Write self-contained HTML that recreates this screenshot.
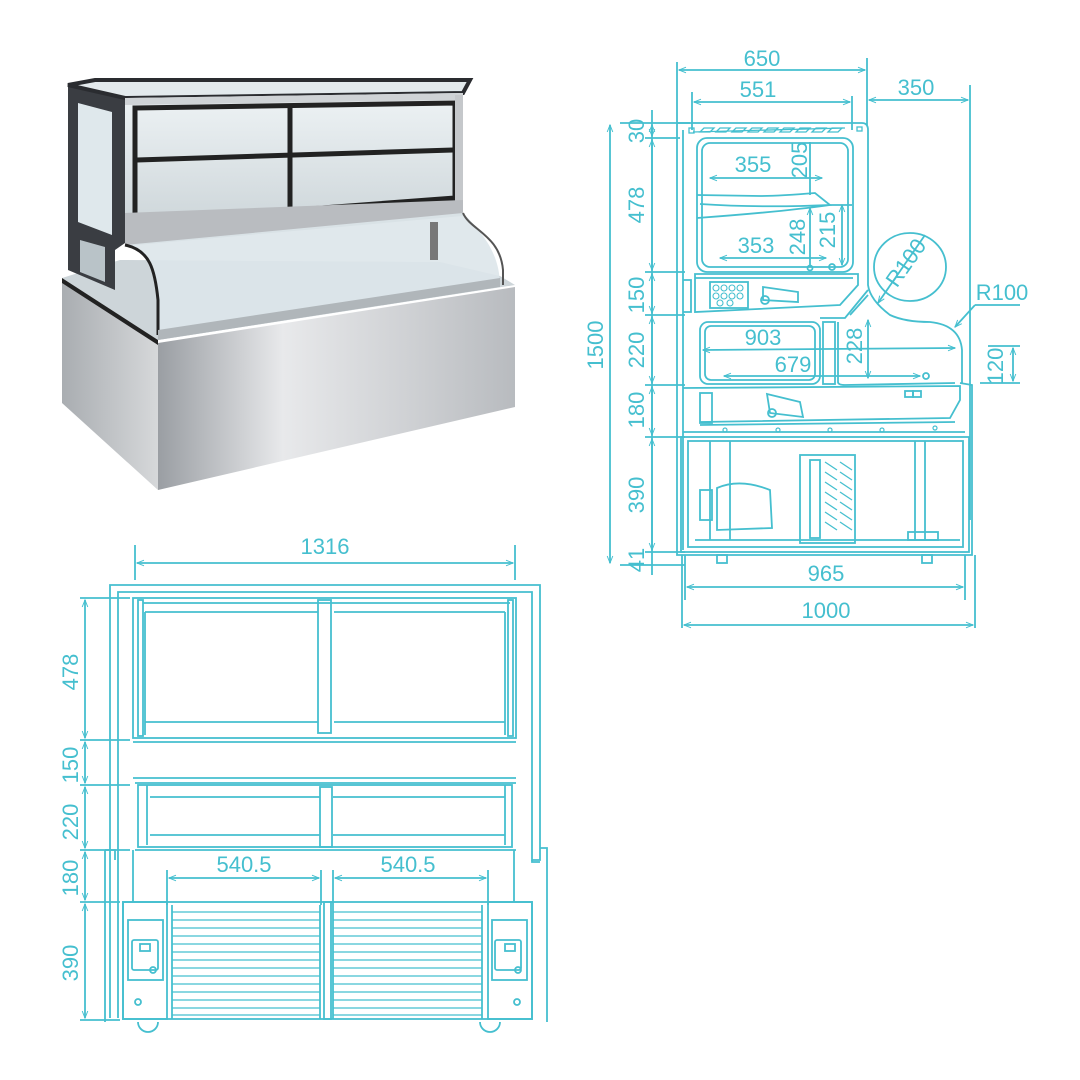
<!DOCTYPE html>
<html><head><meta charset="utf-8"><style>
html,body{margin:0;padding:0;background:#fff;}
svg{display:block}
text{font-family:"Liberation Sans",sans-serif;fill:#45bfcf;font-size:22px}
</style></head><body>
<svg width="1080" height="1080" viewBox="0 0 1080 1080" xmlns="http://www.w3.org/2000/svg">
<defs>
<marker id="a" viewBox="0 0 10 10" refX="10" refY="5" markerWidth="9" markerHeight="7" orient="auto-start-reverse" markerUnits="userSpaceOnUse"><path d="M0,1 L10,5 L0,9" fill="none" stroke="#45bfcf" stroke-width="1.4"/></marker>
<linearGradient id="steel" x1="0" y1="0" x2="1" y2="0"><stop offset="0" stop-color="#9a9ea3"/><stop offset="0.35" stop-color="#e8e9eb"/><stop offset="0.7" stop-color="#cfd1d4"/><stop offset="1" stop-color="#b8bbbf"/></linearGradient>
<linearGradient id="side" x1="0" y1="0" x2="1" y2="0"><stop offset="0" stop-color="#a9adb1"/><stop offset="1" stop-color="#d6d8da"/></linearGradient>
<linearGradient id="glass" x1="0" y1="0" x2="0" y2="1"><stop offset="0" stop-color="#eef3f5"/><stop offset="1" stop-color="#c9d2d6"/></linearGradient>
</defs>

<!-- PHOTO -->
<g>
<polygon points="62,280 158,343 158,490 62,403" fill="url(#side)"/>
<polygon points="158,343 515,287 515,407 158,490" fill="url(#steel)"/>
<polygon points="62,278 158,340 515,285 500,276 440,262 120,260" fill="#cdd5d9"/>
<polygon points="62,278 158,340 158,345 62,283" fill="#222"/>
<!-- side frame -->
<polygon points="68,85 125,98 125,243 115,250 115,290 68,270" fill="#3a3d42"/>
<polygon points="78,103 112,112 112,235 78,222" fill="#dfe8ec"/>
<polygon points="80,240 105,247 105,282 80,272" fill="#b9c3c8"/>
<!-- top glass -->
<polygon points="68,85 95,80 470,80 463,93 125,98" fill="#e3eaed" stroke="#2a2c30" stroke-width="4"/>
<polygon points="125,98 463,93 463,213 125,243" fill="url(#glass)"/>
<polygon points="125,98 463,93 463,100 125,105" fill="#cfd3d6"/>
<g fill="none" stroke="#222" stroke-width="5">
<polygon points="135,108 455,103 455,198 135,222"/>
<line x1="290" y1="108" x2="290" y2="212"/>
<line x1="137" y1="160" x2="453" y2="150"/>
</g>
<rect x="455" y="95" width="8" height="118" fill="#c5c8cb"/>
<polygon points="125,213 463,200 463,216 125,246" fill="#b9bcc0"/>
<!-- lower glass -->
<path d="M125,245 C150,250 155,270 158,300 L158,340 L500,287 C500,260 490,240 463,213 Z" fill="#dde6ea" opacity="0.9"/>
<path d="M125,245 C150,250 155,270 158,300 L158,335" fill="none" stroke="#222" stroke-width="3"/>
<path d="M463,213 C470,230 500,235 503,270 L503,285" fill="none" stroke="#555" stroke-width="2"/>
<rect x="430" y="222" width="8" height="38" fill="#777"/>
<polygon points="158,330 500,278 500,287 158,340" fill="#b0b6ba"/>
</g>

<g fill="none" stroke="#45bfcf" stroke-width="1.8">
<!-- ===== SIDE VIEW ===== -->
<line x1="677" y1="62" x2="677" y2="125"/><line x1="867" y1="58" x2="867" y2="125"/>
<line x1="679" y1="70" x2="865" y2="70" marker-start="url(#a)" marker-end="url(#a)"/>
<line x1="692" y1="92" x2="692" y2="130"/><line x1="852" y1="96" x2="852" y2="130"/>
<line x1="694" y1="102" x2="850" y2="102" marker-start="url(#a)" marker-end="url(#a)"/>
<line x1="970" y1="85" x2="970" y2="520"/>
<line x1="869" y1="100" x2="968" y2="100" marker-start="url(#a)" marker-end="url(#a)"/>
<line x1="652" y1="110" x2="652" y2="575"/>
<g>
<line x1="620" y1="123" x2="690" y2="123"/><line x1="645" y1="138" x2="680" y2="138"/>
<line x1="645" y1="272" x2="685" y2="272"/><line x1="645" y1="315" x2="685" y2="315"/>
<line x1="645" y1="385" x2="685" y2="385"/><line x1="645" y1="437" x2="685" y2="437"/>
<line x1="645" y1="552" x2="685" y2="552"/><line x1="620" y1="565" x2="685" y2="565"/>
</g>
<line x1="610" y1="125" x2="610" y2="563" marker-start="url(#a)" marker-end="url(#a)"/>
<g marker-start="url(#a)" marker-end="url(#a)">
<line x1="652" y1="125" x2="652" y2="136"/>
<line x1="652" y1="140" x2="652" y2="270"/>
<line x1="652" y1="274" x2="652" y2="313"/>
<line x1="652" y1="317" x2="652" y2="383"/>
<line x1="652" y1="387" x2="652" y2="435"/>
<line x1="652" y1="439" x2="652" y2="550"/>
</g>
<line x1="685" y1="555" x2="685" y2="600"/><line x1="965" y1="555" x2="965" y2="600"/>
<line x1="687" y1="587" x2="963" y2="587" marker-start="url(#a)" marker-end="url(#a)"/>
<line x1="682" y1="555" x2="682" y2="628"/><line x1="975" y1="555" x2="975" y2="628"/>
<line x1="684" y1="625" x2="973" y2="625" marker-start="url(#a)" marker-end="url(#a)"/>
<path d="M677,125 L677,555 L972,555 L972,385 L960,383"/>
<path d="M677,123 L862,123 Q868,123 868,130 L868,285 Q870,300 890,315 Q905,322 930,322 Q960,325 962,350 L962,383"/>
<path d="M683,130 L683,550"/>
<g stroke-width="1.3">
<path d="M693,132 L845,128"/><path d="M700,132 l4,-4 h10 l-4,4z M716,132 l4,-4 h10 l-4,4z M732,132 l4,-4 h10 l-4,4z M748,132 l4,-4 h10 l-4,4z M764,132 l4,-4 h10 l-4,4z M780,132 l4,-4 h10 l-4,4z M796,132 l4,-4 h10 l-4,4z M812,132 l4,-4 h10 l-4,4z M828,132 l4,-4 h10 l-4,4z"/>
<rect x="689" y="128" width="5" height="5"/><rect x="857" y="127" width="5" height="4"/>
</g>
<rect x="697" y="138" width="156" height="134" rx="10"/>
<rect x="702" y="143" width="146" height="124" rx="8"/>
<path d="M697,195 L760,196 Q780,196 815,193 L830,205 Q780,212 697,218"/>
<path d="M700,204 Q760,208 830,205 L852,205"/>
<line x1="710" y1="178" x2="822" y2="178" marker-start="url(#a)" marker-end="url(#a)"/>
<line x1="810" y1="142" x2="810" y2="195"/>
<line x1="810" y1="208" x2="810" y2="267" marker-start="url(#a)"/>
<line x1="842" y1="205" x2="842" y2="265" marker-start="url(#a)" marker-end="url(#a)"/>
<line x1="720" y1="258" x2="826" y2="258" marker-start="url(#a)" marker-end="url(#a)"/>
<circle cx="810" cy="268" r="2.5"/><circle cx="832" cy="267" r="3"/>
<path d="M695,274 L858,274 L858,285 L840,305 L695,312 Z"/>
<path d="M695,278 L853,278"/>
<rect x="710" y="282" width="38" height="26"/>
<g stroke-width="1.1"><circle cx="716" cy="288" r="3"/><circle cx="724" cy="288" r="3"/><circle cx="732" cy="288" r="3"/><circle cx="740" cy="288" r="3"/><circle cx="716" cy="296" r="3"/><circle cx="724" cy="296" r="3"/><circle cx="732" cy="296" r="3"/><circle cx="740" cy="296" r="3"/><circle cx="720" cy="303" r="3"/><circle cx="730" cy="303" r="3"/></g>
<path d="M763,287 L798,292 L798,302 L763,300 Z"/><circle cx="765" cy="300" r="4"/>
<path d="M683,280 h8 v32 h-8"/>
<path d="M868,290 L845,318 L820,318"/>
<path d="M868,295 L850,315"/>
<rect x="700" y="322" width="120" height="62" rx="8"/>
<rect x="705" y="326" width="110" height="54" rx="6"/>
<rect x="823" y="322" width="12" height="62"/>
<path d="M838,322 L838,382 Q838,385 845,385 L955,383"/>
<line x1="703" y1="350" x2="955" y2="348" marker-start="url(#a)" marker-end="url(#a)"/>
<line x1="724" y1="376" x2="920" y2="376" marker-start="url(#a)" marker-end="url(#a)"/>
<circle cx="926" cy="376" r="3"/>
<line x1="868" y1="320" x2="868" y2="378" marker-start="url(#a)" marker-end="url(#a)"/>
<line x1="988" y1="346" x2="1020" y2="346"/><line x1="980" y1="383" x2="1020" y2="383"/>
<line x1="1013" y1="348" x2="1013" y2="381" marker-start="url(#a)" marker-end="url(#a)"/>
<ellipse cx="910" cy="267" rx="36" ry="34"/>
<line x1="925" y1="235" x2="878" y2="303" marker-end="url(#a)"/>
<line x1="1020" y1="305" x2="975" y2="305"/><line x1="975" y1="305" x2="955" y2="327" marker-end="url(#a)"/>
<path d="M683,388 L960,386 L960,400 L950,418 L700,422"/>
<rect x="700" y="393" width="12" height="30"/>
<path d="M767,394 L800,402 L803,417 L770,413 Z"/><circle cx="772" cy="413" r="4"/>
<rect x="905" y="391" width="8" height="6"/><rect x="913" y="391" width="8" height="6"/>
<path d="M683,432 L965,432"/><path d="M700,425 L955,422"/>
<g stroke-width="1.2"><circle cx="725" cy="430" r="2"/><circle cx="778" cy="430" r="2"/><circle cx="830" cy="430" r="2"/><circle cx="882" cy="430" r="2"/><circle cx="935" cy="428" r="2"/></g>
<rect x="681" y="437" width="288" height="115"/>
<rect x="688" y="441" width="275" height="106"/>
<line x1="695" y1="540" x2="960" y2="540"/>
<line x1="710" y1="441" x2="710" y2="540"/><line x1="730" y1="441" x2="730" y2="540"/>
<path d="M717,488 Q740,478 770,490 L772,528 L717,530 Z"/>
<rect x="700" y="490" width="12" height="30"/>
<rect x="800" y="455" width="55" height="88"/><rect x="810" y="460" width="10" height="78"/>
<g stroke-width="1.3"><path d="M825,462 l12,8 M825,472 l12,8 M825,482 l12,8 M825,492 l12,8 M825,502 l12,8 M825,512 l12,8 M825,522 l12,8 M840,462 l12,8 M840,472 l12,8 M840,482 l12,8 M840,492 l12,8 M840,502 l12,8 M840,512 l12,8 M840,522 l12,8"/></g>
<line x1="915" y1="441" x2="915" y2="540"/><line x1="925" y1="441" x2="925" y2="540"/>
<rect x="908" y="532" width="30" height="8"/>
<rect x="717" y="555" width="10" height="8"/><rect x="922" y="555" width="10" height="8"/>

<!-- ===== FRONT VIEW ===== -->
<line x1="135" y1="545" x2="135" y2="580"/><line x1="515" y1="545" x2="515" y2="580"/>
<line x1="137" y1="563" x2="513" y2="563" marker-start="url(#a)" marker-end="url(#a)"/>
<path d="M110,1018 L110,585 L540,585 L540,860 L532,860 L532,592 L118,592 L118,1018"/>
<path d="M532,860 L532,862 L540,862"/>
<path d="M540,848 L547,848 L547,1022"/>
<path d="M105,850 L115,850 L115,860 M105,850 L105,1022"/>
<rect x="133" y="598" width="383" height="140"/>
<rect x="138" y="600" width="5" height="136"/><rect x="508" y="600" width="5" height="136"/>
<line x1="143" y1="603" x2="510" y2="603"/><line x1="145" y1="612" x2="318" y2="612"/><line x1="334" y1="612" x2="505" y2="612"/>
<line x1="145" y1="722" x2="318" y2="722"/><line x1="334" y1="722" x2="505" y2="722"/>
<line x1="145" y1="612" x2="145" y2="735"/><line x1="505" y1="612" x2="505" y2="735"/>
<rect x="318" y="600" width="13" height="133"/>
<line x1="133" y1="742" x2="516" y2="742"/><line x1="133" y1="778" x2="516" y2="778"/>
<line x1="135" y1="783" x2="516" y2="783"/>
<rect x="138" y="785" width="374" height="62"/>
<line x1="147" y1="785" x2="147" y2="845"/><line x1="505" y1="785" x2="505" y2="845"/>
<line x1="150" y1="797" x2="320" y2="797"/><line x1="333" y1="797" x2="505" y2="797"/>
<line x1="150" y1="835" x2="320" y2="835"/><line x1="333" y1="835" x2="505" y2="835"/>
<rect x="320" y="787" width="12" height="60"/>
<line x1="135" y1="850" x2="516" y2="850"/>
<line x1="133" y1="850" x2="133" y2="902"/><line x1="514" y1="850" x2="514" y2="902"/>
<rect x="123" y="902" width="409" height="117"/>
<rect x="123" y="902" width="44" height="117"/><rect x="488" y="902" width="44" height="117"/>
<rect x="128" y="920" width="35" height="60"/><rect x="132" y="940" width="26" height="30" rx="2"/><rect x="140" y="944" width="10" height="7"/><circle cx="153" cy="970" r="3"/><circle cx="138" cy="1002" r="3"/>
<rect x="492" y="920" width="35" height="60"/><rect x="495" y="940" width="26" height="30" rx="2"/><rect x="505" y="944" width="10" height="7"/><circle cx="518" cy="970" r="3"/><circle cx="517" cy="1002" r="3"/>
<rect x="324" y="902" width="7" height="117"/>
<line x1="172" y1="905" x2="172" y2="1019"/><line x1="320" y1="905" x2="320" y2="1019"/>
<line x1="333" y1="905" x2="333" y2="1019"/><line x1="482" y1="905" x2="482" y2="1019"/>
<g stroke-width="1.3">
<path d="M172,912h148M172,920h148M172,928h148M172,936h148M172,944h148M172,952h148M172,960h148M172,968h148M172,976h148M172,984h148M172,992h148M172,1000h148M172,1008h148M172,1015h148"/>
<path d="M333,912h149M333,920h149M333,928h149M333,936h149M333,944h149M333,952h149M333,960h149M333,968h149M333,976h149M333,984h149M333,992h149M333,1000h149M333,1008h149M333,1015h149"/>
</g>
<path d="M138,1022 a10,10 0 0 0 20,0"/><path d="M480,1022 a10,10 0 0 0 20,0"/>
<line x1="80" y1="598" x2="130" y2="598"/><line x1="80" y1="740" x2="130" y2="740"/><line x1="80" y1="785" x2="130" y2="785"/><line x1="80" y1="850" x2="130" y2="850"/><line x1="80" y1="902" x2="120" y2="902"/><line x1="80" y1="1020" x2="120" y2="1020"/>
<g marker-start="url(#a)" marker-end="url(#a)">
<line x1="85" y1="600" x2="85" y2="738"/><line x1="85" y1="742" x2="85" y2="783"/><line x1="85" y1="787" x2="85" y2="848"/><line x1="85" y1="852" x2="85" y2="900"/><line x1="85" y1="904" x2="85" y2="1018"/>
</g>
<line x1="167" y1="870" x2="167" y2="905"/><line x1="321" y1="870" x2="321" y2="905"/>
<line x1="333" y1="870" x2="333" y2="905"/><line x1="488" y1="870" x2="488" y2="905"/>
<line x1="169" y1="878" x2="319" y2="878" marker-start="url(#a)" marker-end="url(#a)"/>
<line x1="335" y1="878" x2="486" y2="878" marker-start="url(#a)" marker-end="url(#a)"/>
</g>

<g text-anchor="middle">
<text x="762" y="66">650</text>
<text x="758" y="97">551</text>
<text x="916" y="95">350</text>
<text x="753" y="172">355</text>
<text x="756" y="253">353</text>
<text x="763" y="345">903</text>
<text x="793" y="372">679</text>
<text x="826" y="581">965</text>
<text x="826" y="618">1000</text>
<text x="1002" y="300">R100</text>
<text x="325" y="554">1316</text>
<text x="244" y="872">540.5</text>
<text x="408" y="872">540.5</text>
<g>
<text transform="translate(644,131) rotate(-90)">30</text>
<text transform="translate(644,205) rotate(-90)">478</text>
<text transform="translate(644,295) rotate(-90)">150</text>
<text transform="translate(644,350) rotate(-90)">220</text>
<text transform="translate(644,410) rotate(-90)">180</text>
<text transform="translate(644,495) rotate(-90)">390</text>
<text transform="translate(644,560) rotate(-90)">41</text>
<text transform="translate(603,345) rotate(-90)">1500</text>
<text transform="translate(807,160) rotate(-90)">205</text>
<text transform="translate(805,237) rotate(-90)">248</text>
<text transform="translate(835,230) rotate(-90)">215</text>
<text transform="translate(862,346) rotate(-90)">228</text>
<text transform="translate(1003,366) rotate(-90)">120</text>
<text transform="translate(912,267) rotate(-55)">R100</text>
<text transform="translate(78,672) rotate(-90)">478</text>
<text transform="translate(78,765) rotate(-90)">150</text>
<text transform="translate(78,822) rotate(-90)">220</text>
<text transform="translate(78,878) rotate(-90)">180</text>
<text transform="translate(78,963) rotate(-90)">390</text>
</g>
</g>
</svg>
</body></html>
